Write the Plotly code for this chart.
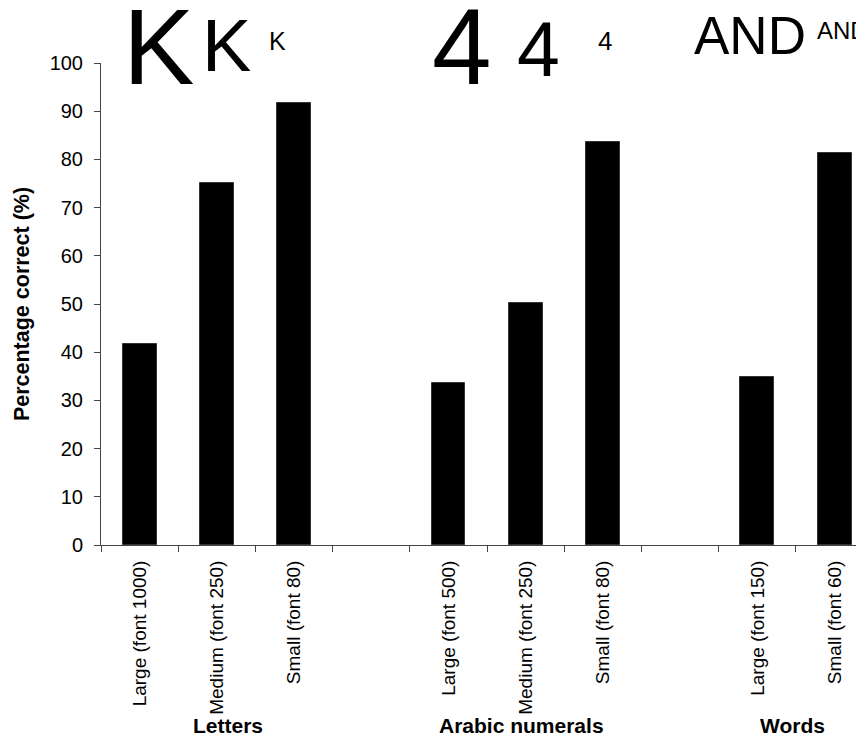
import plotly.graph_objects as go

# ---- data ----
groups = ["Letters", "Arabic numerals", "Words"]
letters_labels = ["Large (font 1000)", "Medium (font 250)", "Small (font 80)"]
letters_values = [41.8, 75.1, 91.6]
numerals_labels = ["Large (font 500)", "Medium (font 250)", "Small (font 80)"]
numerals_values = [33.7, 50.2, 83.6]
words_labels = ["Large (font 150)", "Small (font 60)"]
words_values = [34.8, 81.4]
y_ticks = [0, 10, 20, 30, 40, 50, 60, 70, 80, 90, 100]

FONT = "Arial, Liberation Sans, sans-serif"
AXIS = "#444444"

# build slot positions (one empty slot between groups)
xs, ys, labels = [], [], []
slot = 0
for lab, val in [(letters_labels, letters_values),
                 (numerals_labels, numerals_values),
                 (words_labels, words_values)]:
    for l, v in zip(lab, val):
        xs.append(slot)
        ys.append(v)
        labels.append(l)
        slot += 1
    slot += 1

fig = go.Figure(go.Bar(
    x=xs, y=ys, width=0.44,
    marker=dict(color="black", line=dict(color="#333333", width=1)),
))

# page body has an 8px margin, so the figure is 8px smaller than the window
W, H = 856, 728
L, R, T, B = 93, 0, 55, 191
slot_px = 77.22
xmax = -0.5 + (W - L - R) / slot_px

fig.update_layout(
    width=W, height=H,
    margin=dict(l=L, r=R, t=T, b=B, pad=0),
    plot_bgcolor="white", paper_bgcolor="white",
    showlegend=False,
    font=dict(family=FONT, color="black"),
    bargap=0,
)

fig.update_xaxes(
    range=[-0.5, xmax],
    tickmode="array", tickvals=xs, ticktext=labels,
    tickangle=-90, tickfont=dict(size=19, family=FONT, color="black"),
    ticklabelstandoff=7,
    ticks="", showgrid=False, zeroline=False,
    showline=True, linecolor=AXIS, linewidth=1,
    minor=dict(ticks="outside", tick0=0.5, dtick=1, ticklen=6,
               tickcolor=AXIS, tickwidth=1, showgrid=False),
)
fig.update_yaxes(
    range=[0, 100], tickmode="array", tickvals=y_ticks,
    tickfont=dict(size=20, family=FONT, color="black"),
    ticklabelstandoff=7,
    ticks="outside", ticklen=6, tickcolor=AXIS, tickwidth=1,
    showgrid=False, zeroline=False,
    showline=True, linecolor=AXIS, linewidth=1,
    title=dict(text="Percentage correct (%)",
               font=dict(size=21.5, family=FONT, color="black", weight="bold"),
               standoff=14),
)

# group labels under the axis
group_x = [1.14, 4.95, 8.45]
for g, gx in zip(groups, group_x):
    fig.add_annotation(text=g, x=gx, xref="x", y=-0.3743, yref="paper",
                       showarrow=False, xanchor="center", yanchor="middle",
                       font=dict(size=21, family=FONT, color="black", weight="bold"))

# stimulus examples above the plot
stimuli = [
    ("K", 0.251, 1.0336, 107, "center"),
    ("K", 1.119, 1.0357, 74, "center"),
    ("K", 1.786, 1.045, 25, "center"),
    ("4", 4.181, 1.0336, 107, "center"),
    ("4", 5.166, 1.0295, 77, "center"),
    ("4", 6.033, 1.045, 26, "center"),
    ("AND", 7.904, 1.0574, 53, "center"),
    ("AND", 8.74, 1.0668, 24, "left"),
]
for txt, sx, sy, fs, anc in stimuli:
    fig.add_annotation(text=txt, x=sx, xref="x", y=sy, yref="paper",
                       showarrow=False, xanchor=anc, yanchor="middle",
                       font=dict(size=fs, family=FONT, color="black"))

fig.write_html("out.html")
